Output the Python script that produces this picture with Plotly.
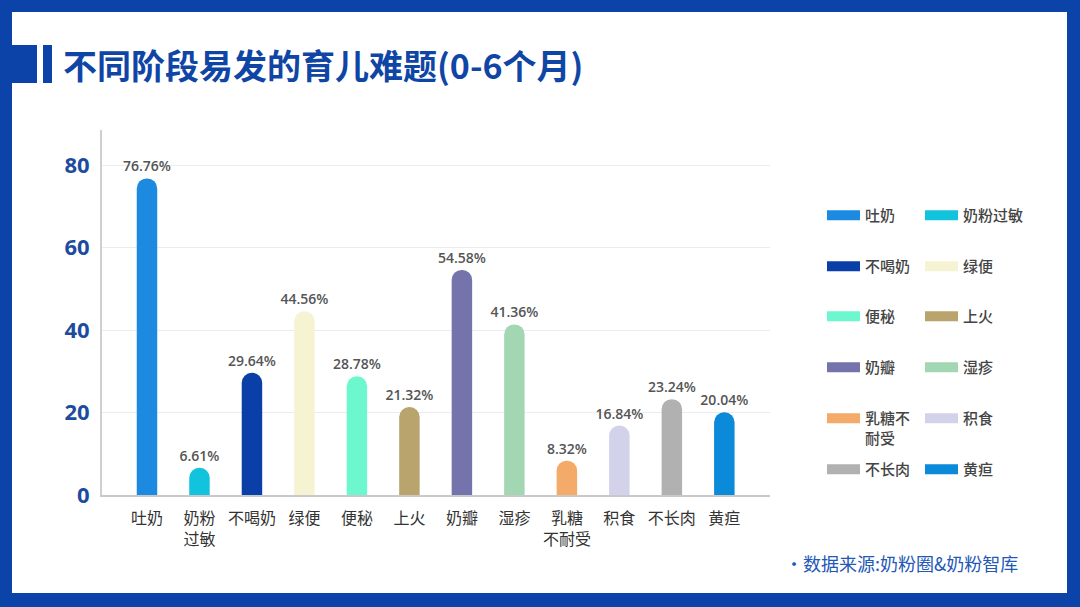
import plotly.graph_objects as go

# ---------------- data ----------------
categories = ['吐奶', '奶粉过敏', '不喝奶', '绿便', '便秘', '上火',
              '奶瓣', '湿疹', '乳糖不耐受', '积食', '不长肉', '黄疸']
tick_labels = ['吐奶', '奶粉<br>过敏', '不喝奶', '绿便', '便秘', '上火',
               '奶瓣', '湿疹', '乳糖<br>不耐受', '积食', '不长肉', '黄疸']
legend_labels = ['吐奶', '奶粉过敏', '不喝奶', '绿便', '便秘', '上火',
                 '奶瓣', '湿疹', '乳糖不<br>耐受', '积食', '不长肉', '黄疸']
values = [76.76, 6.61, 29.64, 44.56, 28.78, 21.32, 54.58, 41.36, 8.32, 16.84, 23.24, 20.04]
y_ticks = [0, 20, 40, 60, 80]
title_text = '不同阶段易发的育儿难题(0-6个月)'
source_text = '·数据来源:奶粉圈&奶粉智库'

# ---------------- style ----------------
colors = ['#1b8ae0', '#12c3dd', '#0b3fa8', '#f6f3d3', '#6cf7cf', '#b9a46d',
          '#7473ab', '#a3d6b3', '#f4aa68', '#d3d2eb', '#b1b1b1', '#0a8ad8']
FRAME = '#0b43a8'
W, H = 1080, 607
L, R, T, B = 102, 770, 130, 495  # plot area in px


def px2x(px):
    return (px - L) / (R - L)


def py2y(py):
    return (B - py) / (B - T)


fig = go.Figure()

fig.add_trace(go.Bar(
    x=categories, y=values,
    marker=dict(color=colors, line=dict(width=0)),
    width=0.39,
    texttemplate='%{y:.2f}%', textposition='outside', constraintext='none',
    textfont=dict(family='Open Sans', size=14, color='#555555', weight=600),
    cliponaxis=False, showlegend=False, hoverinfo='skip'))

# legend entries: 6 rows x 2 columns, one small legend box per entry
row_centers = [215, 266, 316, 367, 418, 469]
col_lefts = [822, 920]
legends = {}
for i, (name, col) in enumerate(zip(legend_labels, colors)):
    r, c = divmod(i, 2)
    key = 'legend' if i == 0 else f'legend{i + 1}'
    fig.add_trace(go.Scatter(
        x=[None], y=[None], mode='lines', name=name,
        line=dict(color=col, width=13), legend=key, hoverinfo='skip'))
    legends[key] = dict(
        x=px2x(col_lefts[c]), y=py2y(row_centers[r] - 16), xanchor='left', yanchor='top',
        orientation='v', valign='top', itemwidth=33, bgcolor='rgba(0,0,0,0)',
        font=dict(family='Noto Sans CJK SC', size=15, color='#444444', weight=500))

fig.update_layout(**legends)

fig.update_layout(
    width=W, height=H,
    margin=dict(l=L, r=W - R, t=T, b=H - B, pad=0),
    paper_bgcolor=FRAME, plot_bgcolor='rgba(0,0,0,0)',
    barcornerradius='50%',
    font=dict(family='Noto Sans CJK SC'),
    xaxis=dict(
        type='category', categoryorder='array', categoryarray=categories,
        range=[-0.857, 11.87], tickmode='array', tickvals=categories, ticktext=tick_labels,
        showline=True, linecolor='#c9c9c9', linewidth=2, showgrid=False,
        ticks='', ticklabelstandoff=8,
        tickfont=dict(family='Lato, Noto Sans CJK SC', size=16, color='#333333'),
        fixedrange=True),
    yaxis=dict(
        range=[0, 88.5], tickmode='array', tickvals=y_ticks,
        showline=True, linecolor='#cfcfcf', linewidth=2,
        showgrid=True, gridcolor='#ececec', gridwidth=1, zeroline=False,
        ticks='', ticklabelstandoff=6,
        tickfont=dict(family='Open Sans', size=22, color='#1d4c9e', weight=700),
        fixedrange=True),
    shapes=[
        # white inner panel
        dict(type='rect', xref='paper', yref='paper', layer='below',
             x0=px2x(12), x1=px2x(1067), y0=py2y(593), y1=py2y(12),
             fillcolor='white', line=dict(width=0)),
        # title marks
        dict(type='rect', xref='paper', yref='paper', layer='above',
             x0=px2x(12), x1=px2x(37), y0=py2y(83), y1=py2y(45),
             fillcolor=FRAME, line=dict(width=0)),
        dict(type='rect', xref='paper', yref='paper', layer='above',
             x0=px2x(43), x1=px2x(52), y0=py2y(83), y1=py2y(45),
             fillcolor=FRAME, line=dict(width=0)),
    ],
    annotations=[
        dict(text='<b>' + title_text + '</b>', xref='paper', yref='paper',
             x=px2x(61), y=py2y(64), xanchor='left', yanchor='middle', showarrow=False,
             font=dict(family='Noto Sans CJK SC', size=34, color='#0f46a6')),
        dict(text=source_text, xref='paper', yref='paper',
             x=px2x(1020), y=py2y(563), xanchor='right', yanchor='middle', showarrow=False,
             font=dict(family='Noto Sans CJK SC', size=18, color='#2358b5')),
    ],
)

fig.write_html('out.html', config={'displayModeBar': False},
               post_script="document.body.style.margin='0';document.body.style.overflow='hidden';")
